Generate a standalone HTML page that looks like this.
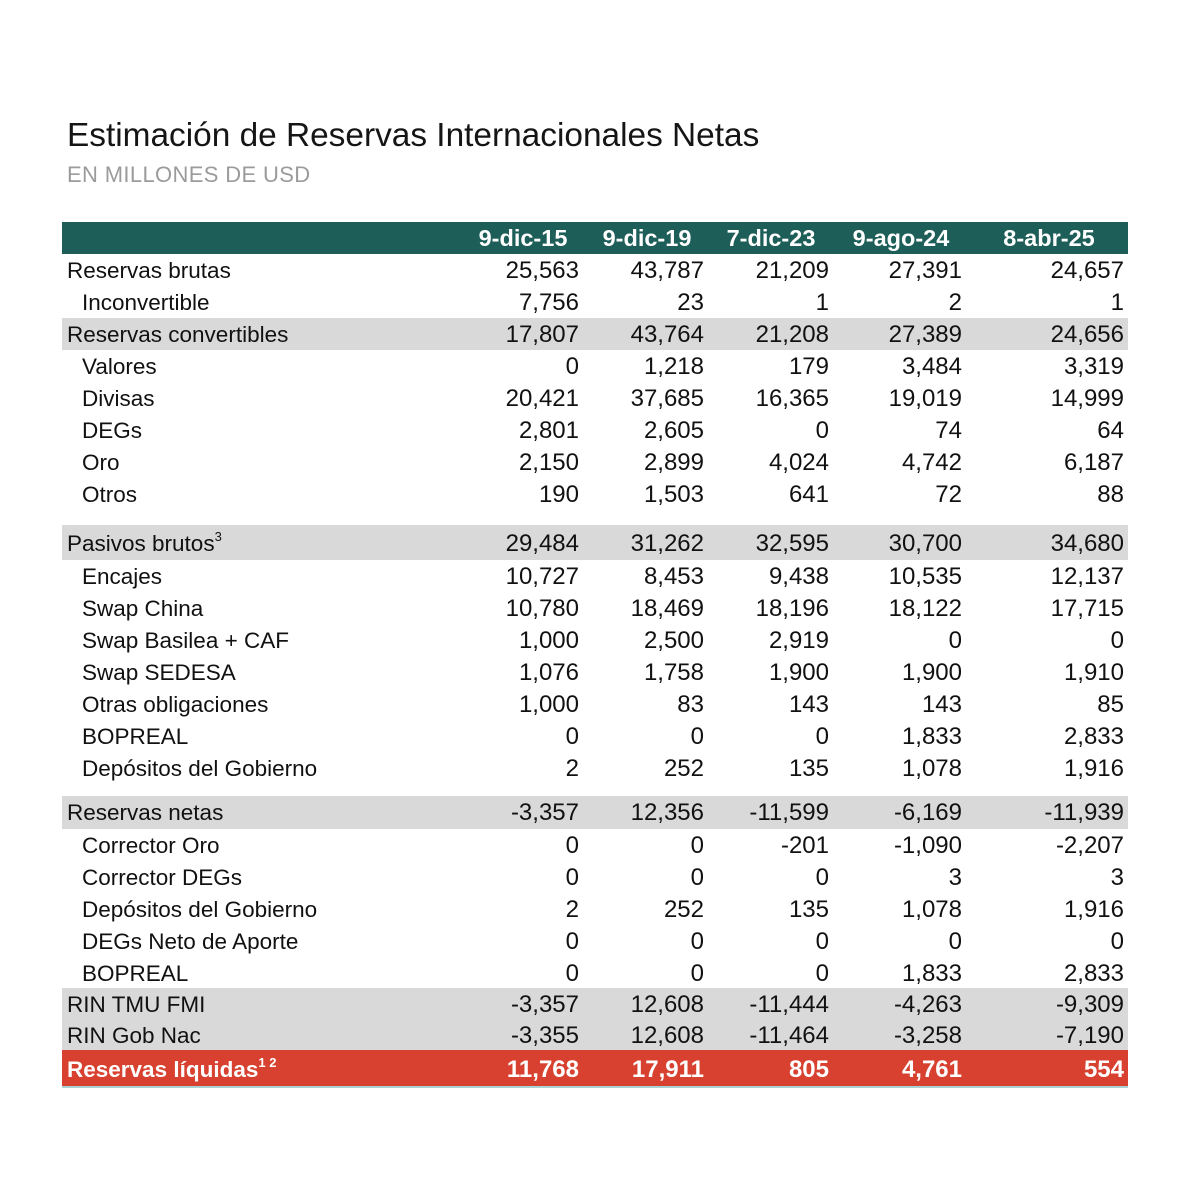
<!DOCTYPE html>
<html><head><meta charset="utf-8">
<style>
html,body{margin:0;padding:0;background:#fff;}
body{width:1200px;height:1200px;position:relative;overflow:hidden;font-family:"Liberation Sans",Arial,sans-serif;color:#111;}
.title{position:absolute;left:67px;top:114px;font-size:33.4px;line-height:44px;color:#151515;white-space:nowrap;}
.sub{position:absolute;left:67px;top:160px;font-size:22px;letter-spacing:0.35px;line-height:30px;color:#9b9b9b;white-space:nowrap;}
.row{position:absolute;left:62px;width:1066px;}
.row .l{position:absolute;left:5px;top:0;font-size:22.5px;white-space:nowrap;}
.row .l.i{left:20px;}
.row .n{position:absolute;top:0;font-size:24px;text-align:right;white-space:nowrap;}
.c1{right:549px}.c2{right:424px}.c3{right:299px}.c4{right:166px}.c5{right:4px}
.g{background:#d9d9d9;}
.hdr{background:#1e5e58;color:#fff;}
.hdr .h{position:absolute;top:0;width:130px;text-align:center;font-size:23.5px;font-weight:bold;}
.red{background:#d8412f;color:#fff;border-bottom:2px solid #a9d2d2;}
.red .l,.red .n{font-weight:bold;}
sup{font-size:13px;vertical-align:top;position:relative;top:-7px;}
</style></head>
<body>
<div class="title">Estimación de Reservas Internacionales Netas</div>
<div class="sub">EN MILLONES DE USD</div>

<div class="row hdr" style="top:222px;height:32px;line-height:32px;">
<span class="h" style="left:396px">9-dic-15</span>
<span class="h" style="left:520px">9-dic-19</span>
<span class="h" style="left:644px">7-dic-23</span>
<span class="h" style="left:774px">9-ago-24</span>
<span class="h" style="left:922px">8-abr-25</span>
</div>

<div class="row" style="top:254px;height:32px;line-height:33px;"><span class="l">Reservas brutas</span><span class="n c1">25,563</span><span class="n c2">43,787</span><span class="n c3">21,209</span><span class="n c4">27,391</span><span class="n c5">24,657</span></div>
<div class="row" style="top:286px;height:32px;line-height:33px;"><span class="l i">Inconvertible</span><span class="n c1">7,756</span><span class="n c2">23</span><span class="n c3">1</span><span class="n c4">2</span><span class="n c5">1</span></div>
<div class="row g" style="top:318px;height:32px;line-height:33px;"><span class="l">Reservas convertibles</span><span class="n c1">17,807</span><span class="n c2">43,764</span><span class="n c3">21,208</span><span class="n c4">27,389</span><span class="n c5">24,656</span></div>
<div class="row" style="top:350px;height:32px;line-height:33px;"><span class="l i">Valores</span><span class="n c1">0</span><span class="n c2">1,218</span><span class="n c3">179</span><span class="n c4">3,484</span><span class="n c5">3,319</span></div>
<div class="row" style="top:382px;height:32px;line-height:33px;"><span class="l i">Divisas</span><span class="n c1">20,421</span><span class="n c2">37,685</span><span class="n c3">16,365</span><span class="n c4">19,019</span><span class="n c5">14,999</span></div>
<div class="row" style="top:414px;height:32px;line-height:33px;"><span class="l i">DEGs</span><span class="n c1">2,801</span><span class="n c2">2,605</span><span class="n c3">0</span><span class="n c4">74</span><span class="n c5">64</span></div>
<div class="row" style="top:446px;height:32px;line-height:33px;"><span class="l i">Oro</span><span class="n c1">2,150</span><span class="n c2">2,899</span><span class="n c3">4,024</span><span class="n c4">4,742</span><span class="n c5">6,187</span></div>
<div class="row" style="top:478px;height:32px;line-height:33px;"><span class="l i">Otros</span><span class="n c1">190</span><span class="n c2">1,503</span><span class="n c3">641</span><span class="n c4">72</span><span class="n c5">88</span></div>

<div class="row g" style="top:525px;height:35px;line-height:37px;"><span class="l">Pasivos brutos<sup>3</sup></span><span class="n c1">29,484</span><span class="n c2">31,262</span><span class="n c3">32,595</span><span class="n c4">30,700</span><span class="n c5">34,680</span></div>
<div class="row" style="top:560px;height:32px;line-height:33px;"><span class="l i">Encajes</span><span class="n c1">10,727</span><span class="n c2">8,453</span><span class="n c3">9,438</span><span class="n c4">10,535</span><span class="n c5">12,137</span></div>
<div class="row" style="top:592px;height:32px;line-height:33px;"><span class="l i">Swap China</span><span class="n c1">10,780</span><span class="n c2">18,469</span><span class="n c3">18,196</span><span class="n c4">18,122</span><span class="n c5">17,715</span></div>
<div class="row" style="top:624px;height:32px;line-height:33px;"><span class="l i">Swap Basilea + CAF</span><span class="n c1">1,000</span><span class="n c2">2,500</span><span class="n c3">2,919</span><span class="n c4">0</span><span class="n c5">0</span></div>
<div class="row" style="top:656px;height:32px;line-height:33px;"><span class="l i">Swap SEDESA</span><span class="n c1">1,076</span><span class="n c2">1,758</span><span class="n c3">1,900</span><span class="n c4">1,900</span><span class="n c5">1,910</span></div>
<div class="row" style="top:688px;height:32px;line-height:33px;"><span class="l i">Otras obligaciones</span><span class="n c1">1,000</span><span class="n c2">83</span><span class="n c3">143</span><span class="n c4">143</span><span class="n c5">85</span></div>
<div class="row" style="top:720px;height:32px;line-height:33px;"><span class="l i">BOPREAL</span><span class="n c1">0</span><span class="n c2">0</span><span class="n c3">0</span><span class="n c4">1,833</span><span class="n c5">2,833</span></div>
<div class="row" style="top:752px;height:32px;line-height:33px;"><span class="l i">Depósitos del Gobierno</span><span class="n c1">2</span><span class="n c2">252</span><span class="n c3">135</span><span class="n c4">1,078</span><span class="n c5">1,916</span></div>

<div class="row g" style="top:796px;height:33px;line-height:34px;"><span class="l">Reservas netas</span><span class="n c1">-3,357</span><span class="n c2">12,356</span><span class="n c3">-11,599</span><span class="n c4">-6,169</span><span class="n c5">-11,939</span></div>
<div class="row" style="top:829px;height:32px;line-height:33px;"><span class="l i">Corrector Oro</span><span class="n c1">0</span><span class="n c2">0</span><span class="n c3">-201</span><span class="n c4">-1,090</span><span class="n c5">-2,207</span></div>
<div class="row" style="top:861px;height:32px;line-height:33px;"><span class="l i">Corrector DEGs</span><span class="n c1">0</span><span class="n c2">0</span><span class="n c3">0</span><span class="n c4">3</span><span class="n c5">3</span></div>
<div class="row" style="top:893px;height:32px;line-height:33px;"><span class="l i">Depósitos del Gobierno</span><span class="n c1">2</span><span class="n c2">252</span><span class="n c3">135</span><span class="n c4">1,078</span><span class="n c5">1,916</span></div>
<div class="row" style="top:925px;height:32px;line-height:33px;"><span class="l i">DEGs Neto de Aporte</span><span class="n c1">0</span><span class="n c2">0</span><span class="n c3">0</span><span class="n c4">0</span><span class="n c5">0</span></div>
<div class="row" style="top:957px;height:31px;line-height:33px;"><span class="l i">BOPREAL</span><span class="n c1">0</span><span class="n c2">0</span><span class="n c3">0</span><span class="n c4">1,833</span><span class="n c5">2,833</span></div>
<div class="row g" style="top:988px;height:32px;line-height:33px;"><span class="l">RIN TMU FMI</span><span class="n c1">-3,357</span><span class="n c2">12,608</span><span class="n c3">-11,444</span><span class="n c4">-4,263</span><span class="n c5">-9,309</span></div>
<div class="row g" style="top:1020px;height:30px;line-height:32px;"><span class="l">RIN Gob Nac</span><span class="n c1">-3,355</span><span class="n c2">12,608</span><span class="n c3">-11,464</span><span class="n c4">-3,258</span><span class="n c5">-7,190</span></div>
<div class="row red" style="top:1050px;height:36px;line-height:40px;"><span class="l">Reservas líquidas<sup>1 2</sup></span><span class="n c1">11,768</span><span class="n c2">17,911</span><span class="n c3">805</span><span class="n c4">4,761</span><span class="n c5">554</span></div>
</body></html>
